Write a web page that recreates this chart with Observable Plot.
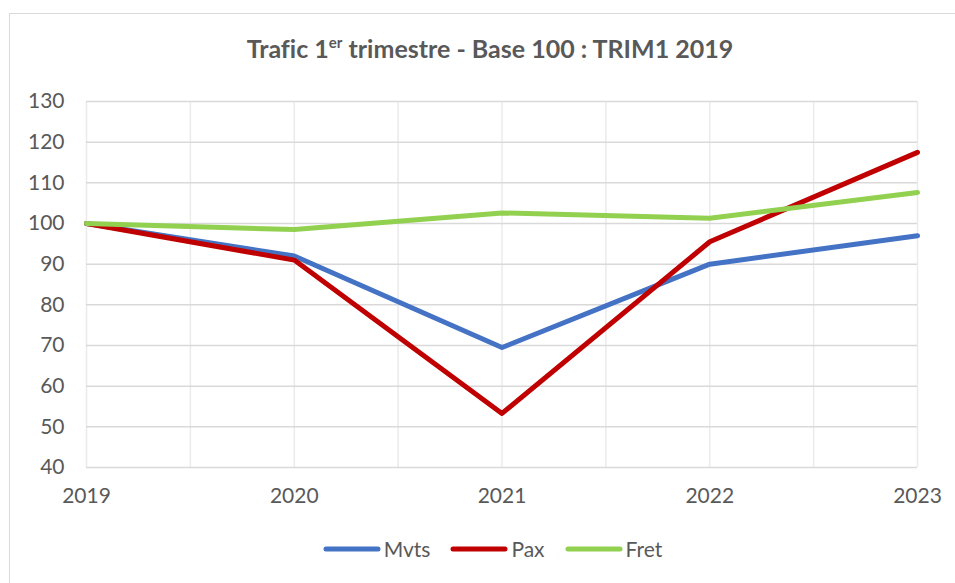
<!DOCTYPE html>
<html>
<head>
<meta charset="utf-8">
<script src="https://cdn.jsdelivr.net/npm/d3@7"></script>
<script src="https://cdn.jsdelivr.net/npm/@observablehq/plot@0.6"></script>
<style>
  html, body { margin: 0; padding: 0; background: #fff; }
  #wrap { position: relative; width: 955px; height: 583px; overflow: hidden; font-family: Lato, "Open Sans", sans-serif; color: #595959; }
  #frame { position: absolute; left: 9px; top: 13px; width: 980px; height: 620px; border: 1px solid #d9d9d9; box-sizing: border-box; }
  #title { position: absolute; left: 0; width: 980px; top: 33px; text-align: center; font-weight: bold; font-size: 25px; color: #595959; font-variant-ligatures: none; }
  #title sup { font-size: 15px; vertical-align: 10px; line-height: 0; }
  #chart { position: absolute; left: 0; top: 0; }
  #legend { position: absolute; left: 0; width: 985px; top: 536px; display: flex; justify-content: center; align-items: center; font-size: 21px; }
  .item { display: flex; align-items: center; margin: 0 10px; }
  .item svg { margin-right: 3px; }
</style>
</head>
<body>
<div id="wrap">
  <div id="frame"></div>
  <div id="title">Trafic 1<sup>er</sup> trimestre - Base 100 : TRIM1 2019</div>
  <div id="chart"></div>
  <div id="legend"></div>
</div>
<script>
const years = [2019, 2020, 2021, 2022, 2023];
const seriesNames = ["Mvts", "Pax", "Fret"];
const mvts = [100, 92.0, 69.5, 90.0, 97.0];
const pax  = [100, 91.0, 53.3, 95.5, 117.5];
const fret = [100, 98.5, 102.6, 101.3, 107.6];
const yTicks = [40, 50, 60, 70, 80, 90, 100, 110, 120, 130];
const colors = ["#4472C4", "#C00000", "#92D050"];

const values = [mvts, pax, fret];
const data = [];
seriesNames.forEach((s, i) => years.forEach((y, j) => data.push({series: s, year: y, value: values[i][j]})));
const halfYears = d3.range(years[0], years[years.length - 1] + 0.01, 0.5);

const plot = Plot.plot({
  width: 955,
  height: 520,
  marginLeft: 86,
  marginRight: 38,
  marginTop: 101,
  marginBottom: 53,
  style: { fontFamily: "Lato, 'Open Sans', sans-serif", fontSize: "21px", color: "#595959", background: "transparent" },
  x: { domain: [years[0], years[years.length - 1]] },
  y: { domain: [yTicks[0], yTicks[yTicks.length - 1]] },
  color: { domain: seriesNames, range: colors },
  marks: [
    Plot.gridX(halfYears, { stroke: "#ebebeb", strokeOpacity: 1, strokeWidth: 1.5 }),
    Plot.gridY(yTicks, { stroke: "#d9d9d9", strokeOpacity: 1, strokeWidth: 1.5 }),
    Plot.axisX({ ticks: years, tickFormat: d => String(d), tickSize: 0, tickPadding: 21, label: null, fill: "#595959" }),
    Plot.axisY({ ticks: yTicks, tickSize: 0, tickPadding: 22, label: null, fill: "#595959" }),
    Plot.line(data, { x: "year", y: "value", z: "series", stroke: "series", strokeWidth: 5, strokeLinejoin: "round", strokeLinecap: "round" })
  ]
});
document.getElementById("chart").appendChild(plot);

const legend = document.getElementById("legend");
seriesNames.forEach((s, i) => {
  const item = document.createElement("div");
  item.className = "item";
  item.innerHTML = `<svg width="58" height="10"><line x1="3" y1="5" x2="55" y2="5" stroke="${colors[i]}" stroke-width="5" stroke-linecap="round"/></svg><span>${s}</span>`;
  legend.appendChild(item);
});
</script>
</body>
</html>
